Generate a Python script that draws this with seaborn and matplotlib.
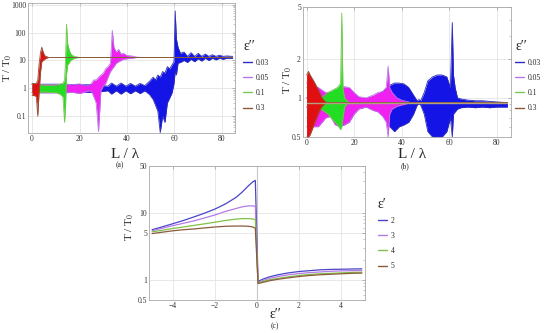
import matplotlib
matplotlib.use("Agg")
import matplotlib.pyplot as plt
from matplotlib.lines import Line2D
from matplotlib.ticker import NullFormatter
import numpy as np
import pandas as pd
import seaborn as sns

# ---------- panel (a): envelopes of T/T0 vs L/lambda, per eps'' ----------
eps2_labels = ["0.03", "0.05", "0.1", "0.3"]

a_x_003 = [0, 14, 20, 26, 30, 32, 33.5, 35.5, 37.5, 39.5, 41.5, 43.5, 45.5, 47.5, 49.5, 51, 52, 53, 54, 55, 56, 57, 58, 59,
           59.8, 60.3, 60.8, 61.5, 62.5, 64, 65.5, 67, 68.5, 70, 71.5, 73, 74.5, 76, 77.5, 79, 80.5, 82, 84.5]
a_lo_003 = [0.7, 0.7, 0.72, 0.72, 0.78, 0.82, 0.62, 0.82, 0.62, 0.82, 0.64, 0.82, 0.65, 0.82, 0.6, 0.4, 0.25, 0.15, 0.026,
            0.1, 0.06, 0.3, 0.45, 0.7, 1.5, 4, 3, 8, 8.5, 10, 8.5, 11, 9, 11.5, 9.5, 12, 10, 12, 10.5, 12, 11, 12, 12]
a_hi_003 = [1.4, 1.4, 1.35, 1.35, 1.25, 1.2, 1.55, 1.2, 1.55, 1.2, 1.5, 1.2, 1.5, 1.25, 1.8, 2.5, 2, 3, 2.5, 4, 3.5, 6, 5,
            7, 9, 600, 60, 30, 18, 20, 14, 19, 14, 18, 14, 17, 14, 16, 14, 15.5, 14, 14.5, 14]

a_x_005 = [0, 10, 14, 17, 20, 22, 24, 25, 26, 27, 28, 29, 30, 31, 32, 33, 33.8, 34.5, 35.5, 36.5, 37.5, 38.5, 40, 42, 44,
           46, 84.5]
a_lo_005 = [0.7, 0.7, 0.7, 0.72, 0.65, 0.72, 0.8, 0.8, 0.5, 0.3, 0.028, 0.8, 1.2, 1.5, 2.5, 4, 5, 6, 8, 9, 10, 11, 11.5,
            12, 12.8, 12.8, 12.8]
a_hi_005 = [1.4, 1.4, 1.4, 1.35, 1.45, 1.3, 1.3, 1.5, 2, 2, 2.5, 3, 3.5, 5, 6, 8, 120, 30, 20, 25, 17, 18, 15, 14.5,
            13.2, 12.8, 12.8]

a_x_01 = [0, 3, 5, 8, 10, 12, 13, 13.7, 14.1, 14.5, 15, 15.6, 16.2, 17, 18, 19, 20, 84.5]
a_lo_01 = [0.7, 0.7, 0.75, 0.7, 0.72, 0.6, 0.5, 0.06, 0.2, 3, 7, 8, 10, 11, 12, 12.5, 12.8, 12.8]
a_hi_01 = [1.4, 1.35, 1.3, 1.3, 1.3, 1.4, 1.5, 2, 10, 200, 40, 25, 18, 15, 14, 13.3, 12.8, 12.8]

a_x_03 = [0, 1, 1.8, 2.4, 3.0, 3.6, 4.1, 4.7, 5.3, 6, 7, 84.5]
a_lo_03 = [0.55, 0.55, 0.5, 0.1, 0.8, 4, 9, 10, 11, 12, 12.8, 12.8]
a_hi_03 = [1.5, 1.5, 1.5, 2, 8, 20, 30, 20, 15, 14, 12.8, 12.8]

# ---------- panel (b) ----------
b_x_003 = [0, 10, 20, 25, 30, 33, 35, 37, 39, 41, 43, 45, 46.5, 47.3, 48, 49.5, 51, 53, 55, 57, 59, 60.5, 61.3, 61.8,
           62.5, 63.5, 65, 68, 71, 74, 77, 80, 84.5]
b_lo_003 = [0.85, 0.85, 0.82, 0.85, 0.82, 0.75, 0.6, 0.55, 0.6, 0.62, 0.65, 0.75, 0.88, 0.9, 0.88, 0.75, 0.55, 0.5, 0.5,
            0.5, 0.55, 0.7, 0.5, 0.75, 0.78, 0.82, 0.84, 0.85, 0.84, 0.85, 0.84, 0.85, 0.85]
b_hi_003 = [1.0, 1.0, 1.02, 0.98, 1.05, 1.15, 1.25, 1.3, 1.3, 1.28, 1.2, 1.05, 0.95, 0.97, 0.95, 1.1, 1.35, 1.45, 1.5,
            1.5, 1.45, 1.2, 3.8, 1.5, 1.2, 1.0, 0.98, 0.96, 0.95, 0.95, 0.94, 0.93, 0.92]

b_x_005 = [0, 5, 8, 10, 12, 14, 16, 18, 20, 22, 25, 28, 30, 32, 33.5, 34.3, 35, 36, 38, 40, 42, 44, 84.5]
b_lo_005 = [0.6, 0.6, 0.7, 0.72, 0.62, 0.6, 0.62, 0.65, 0.75, 0.82, 0.85, 0.8, 0.78, 0.72, 0.65, 0.5, 0.75, 0.82, 0.86,
            0.88, 0.9, 0.92, 0.92]
b_hi_005 = [1.3, 1.2, 1.1, 1.1, 1.15, 1.2, 1.22, 1.2, 1.1, 1.02, 1.0, 1.05, 1.1, 1.12, 1.2, 1.75, 1.2, 1.1, 1.0, 0.96,
            0.94, 0.92, 0.92]

b_x_01 = [0, 3, 6, 9, 11, 13, 14.3, 14.8, 15.3, 16, 17, 18, 84.5]
b_lo_01 = [0.7, 0.75, 0.82, 0.75, 0.68, 0.62, 0.57, 0.6, 0.7, 0.85, 0.9, 0.92, 0.92]
b_hi_01 = [1.2, 1.1, 1.0, 1.1, 1.15, 1.2, 1.3, 4.5, 1.2, 1.0, 0.95, 0.92, 0.92]

b_x_03 = [0, 0.8, 1.5, 2.5, 3.5, 4.5, 5.5, 6.5, 7.5, 8.5, 84.5]
b_lo_03 = [0.5, 0.5, 0.52, 0.58, 0.65, 0.72, 0.8, 0.86, 0.9, 0.92, 0.92]
b_hi_03 = [1.5, 1.6, 1.5, 1.4, 1.3, 1.2, 1.1, 1.0, 0.95, 0.92, 0.92]

# ---------- panel (c): T/T0 vs eps'' for eps' = 2..5 ----------
c_eps2 = [-5, -4.5, -4, -3.5, -3, -2.5, -2, -1.5, -1, -0.7, -0.4, -0.2, -0.08, 0.05, 0.3, 0.6, 1, 1.5, 2, 2.5, 3, 3.5,
          4, 4.5, 5]
c_t_2 = [5.6, 6.2, 6.9, 7.7, 8.7, 9.9, 11.4, 13.6, 17, 20.5, 25.5, 29, 30.5, 0.95, 1.03, 1.11, 1.19, 1.27, 1.33, 1.37,
         1.41, 1.43, 1.44, 1.45, 1.46]
c_t_3 = [5.4, 5.9, 6.45, 7.0, 7.6, 8.4, 9.3, 10.5, 11.6, 12.3, 12.7, 12.7, 12.5, 0.92, 0.98, 1.05, 1.12, 1.19, 1.24,
         1.28, 1.31, 1.34, 1.36, 1.37, 1.38]
c_t_4 = [5.2, 5.5, 5.85, 6.15, 6.5, 6.85, 7.25, 7.7, 8.05, 8.2, 8.2, 8.1, 7.9, 0.9, 0.95, 1.0, 1.05, 1.11, 1.16, 1.2,
         1.23, 1.25, 1.27, 1.29, 1.3]
c_t_5 = [4.9, 5.15, 5.4, 5.6, 5.75, 5.95, 6.15, 6.3, 6.35, 6.35, 6.3, 6.15, 5.9, 0.88, 0.92, 0.97, 1.02, 1.07, 1.12,
         1.16, 1.19, 1.21, 1.23, 1.25, 1.26]
eps1_labels = ["2", "3", "4", "5"]

band_colors = ["#1414e6", "#f020f0", "#22dd22", "#e01010"]
line_colors = ["#2c2cb8", "#b47ae6", "#7cc552", "#8b5a3c"]
c_colors = ["#4a44c8", "#b47ae6", "#80c048", "#8b5a3c"]

sns.set_theme(style="white")
plt.rcParams["font.family"] = ["Liberation Serif", "DejaVu Serif"]
plt.rcParams["mathtext.fontset"] = "stix"

fig = plt.figure(figsize=(5.5, 3.33), dpi=100)


def box(l, t, r, b):
    return [l / 550, 1 - b / 333, (r - l) / 550, (b - t) / 333]


def style_axes(ax):
    for s in ax.spines.values():
        s.set_color("#a8a8a8")
        s.set_linewidth(0.6)
    ax.tick_params(which="both", direction="in", colors="#999999", labelcolor="#333333", labelsize=5.5,
                   top=True, right=True, pad=1.5)
    ax.tick_params(which="major", length=2.5, width=0.5)
    ax.tick_params(which="minor", length=1.3, width=0.4)
    ax.grid(True, which="major", color="#e4e4e4", lw=0.6)
    ax.yaxis.set_minor_formatter(NullFormatter())


def bands(ax, series):
    for i, (x, lo, hi) in enumerate(series):
        ax.fill_between(x, lo, hi, color=band_colors[i], lw=0, zorder=2 + i)
        ax.plot(x, lo, color=line_colors[i], lw=0.6, zorder=2 + i)
        ax.plot(x, hi, color=line_colors[i], lw=0.6, zorder=2 + i)


def legend(ax, title, labels, colors, x, y):
    handles = [Line2D([], [], color=c, lw=1.0) for c in colors]
    lg = ax.legend(handles, labels, title=title, loc="upper left", bbox_to_anchor=(x / 550, 1 - y / 333),
                   bbox_transform=fig.transFigure, frameon=False, fontsize=5.5, title_fontsize=10,
                   handlelength=1.2, handletextpad=0.5, labelspacing=0.95, borderaxespad=0, borderpad=0)
    lg._legend_box.align = "left"
    lg._legend_box.sep = 4


# (a)
ax = fig.add_axes(box(28, 3, 235, 133))
bands(ax, [(a_x_003, a_lo_003, a_hi_003), (a_x_005, a_lo_005, a_hi_005),
           (a_x_01, a_lo_01, a_hi_01), (a_x_03, a_lo_03, a_hi_03)])
ax.set_yscale("log")
ax.set_ylim(0.025, 1150)
ax.set_xlim(-1.7, 85.5)
ax.set_yticks([0.1, 1, 10, 100, 1000])
ax.set_yticklabels(["0.1", "1", "10", "100", "1000"])
ax.set_xticks([0, 20, 40, 60, 80])
style_axes(ax)
legend(ax, "ε′′", eps2_labels, line_colors, 243, 40)
fig.text(8 / 550, 1 - 68 / 333, "T / T$_0$", rotation=90, ha="center", va="center", fontsize=8)
fig.text(125 / 550, 1 - 154 / 333, "L / λ", ha="center", va="center", fontsize=11)
fig.text(120 / 550, 1 - 165 / 333, "(a)", ha="center", va="center", fontsize=5.5)

# (b)
ax = fig.add_axes(box(303, 7, 511, 137))
bands(ax, [(b_x_003, b_lo_003, b_hi_003), (b_x_005, b_lo_005, b_hi_005),
           (b_x_01, b_lo_01, b_hi_01), (b_x_03, b_lo_03, b_hi_03)])
ax.plot([0, 84.5], [0.92, 0.92], color="#b0a080", lw=1.0, zorder=7)
ax.set_yscale("log")
ax.set_ylim(0.5, 5)
ax.set_xlim(-1.5, 86)
ax.set_yticks([0.5, 1, 2, 5])
ax.set_yticklabels(["0.5", "1", "2", "5"])
ax.set_xticks([0, 20, 40, 60, 80])
style_axes(ax)
legend(ax, "ε′′", eps2_labels, line_colors, 515, 40)
fig.text(288 / 550, 1 - 80 / 333, "T / T$_0$", rotation=90, ha="center", va="center", fontsize=8)
fig.text(412 / 550, 1 - 154 / 333, "L / λ", ha="center", va="center", fontsize=11)
fig.text(405 / 550, 1 - 166 / 333, "(b)", ha="center", va="center", fontsize=5.5)

# (c)
ax = fig.add_axes(box(149, 166, 365, 300))
df = pd.DataFrame({"eps2": c_eps2 * 4,
                   "T": c_t_2 + c_t_3 + c_t_4 + c_t_5,
                   "eps1": sum([[lab] * len(c_eps2) for lab in eps1_labels], [])})
ax.axvline(0, color="#c8c8c8", lw=0.8, zorder=1)
sns.lineplot(data=df, x="eps2", y="T", hue="eps1", palette=c_colors, lw=0.9, ax=ax, legend=False, zorder=3)
ax.set_yscale("log")
ax.set_ylim(0.5, 50)
ax.set_xlim(-5.15, 5.15)
ax.set_yticks([0.5, 1, 5, 10, 50])
ax.set_yticklabels(["0.5", "1", "5", "10", "50"])
ax.set_xticks([-4, -2, 0, 2, 4])
ax.set_xlabel("")
ax.set_ylabel("")
style_axes(ax)
legend(ax, "ε′", eps1_labels, c_colors, 378, 198)
fig.text(130 / 550, 1 - 227 / 333, "T / T$_0$", rotation=90, ha="center", va="center", fontsize=8)
fig.text(275 / 550, 1 - 314 / 333, "ε′′", ha="center", va="center", fontsize=10)
fig.text(275 / 550, 1 - 326 / 333, "(c)", ha="center", va="center", fontsize=5.5)

fig.savefig("out.png", dpi=100)
